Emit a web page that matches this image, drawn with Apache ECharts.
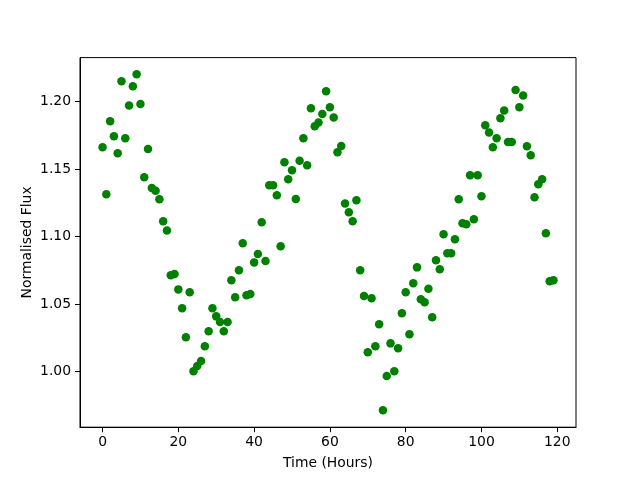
<!DOCTYPE html>
<html>
<head>
<meta charset="utf-8">
<script src="https://cdn.jsdelivr.net/npm/echarts@6/dist/echarts.min.js"></script>
<style>
html,body{margin:0;padding:0;background:#fff;}
#chart{width:640px;height:480px;}
</style>
</head>
<body>
<div id="chart"></div>
<script>
const hours = [0,1,2,3,4,5,6,7,8,9,10,11,12,13,14,15,16,17,18,19,
  20,21,22,23,24,25,26,27,28,29,30,31,32,33,34,35,36,37,38,39,
  40,41,42,43,44,45,46,47,48,49,50,51,52,53,54,55,56,57,58,59,
  60,61,62,63,64,65,66,67,68,69,70,71,72,73,74,75,76,77,78,79,
  80,81,82,83,84,85,86,87,88,89,90,91,92,93,94,95,96,97,98,99,
  100,101,102,103,104,105,106,107,108,109,110,111,112,113,114,115,116,117,118,119];
const flux = [1.1662,1.1314,1.1855,1.1744,1.1618,1.2151,1.1729,1.1973,1.2114,1.2203,
  1.1983,1.1440,1.1650,1.1361,1.1341,1.1277,1.1114,1.1047,1.0714,1.0724,
  1.0610,1.0470,1.0255,1.0588,1.0003,1.0042,1.0079,1.0188,1.0299,1.0470,
  1.0410,1.0368,1.0299,1.0368,1.0677,1.0551,1.0751,1.0951,1.0566,1.0576,
  1.0810,1.0872,1.1107,1.0820,1.1381,1.1381,1.1307,1.0929,1.1551,1.1425,
  1.1492,1.1279,1.1563,1.1729,1.1529,1.1951,1.1818,1.1847,1.1909,1.2077,
  1.1959,1.1884,1.1625,1.1672,1.1247,1.1181,1.1114,1.1270,1.0751,1.0561,
  1.0144,1.0544,1.0188,1.0351,0.9714,0.9968,1.0210,1.0003,1.0173,1.0433,
  1.0588,1.0277,1.0655,1.0773,1.0536,1.0514,1.0615,1.0403,1.0825,1.0759,
  1.1018,1.0877,1.0877,1.0981,1.1277,1.1099,1.1092,1.1455,1.1129,1.1455,
  1.1299,1.1825,1.1773,1.1662,1.1729,1.1877,1.1936,1.1701,1.1701,1.2087,
  1.1959,1.2047,1.1670,1.1603,1.1292,1.1388,1.1425,1.1025,1.0670,1.0677];
const xTicks = [0,20,40,60,80,100,120];
const yTicks = [1.00,1.05,1.10,1.15,1.20];

const points = hours.map((h,i)=>[h, flux[i]]);
const font = 'DejaVu Sans';
const chart = echarts.init(document.getElementById('chart'), null, {renderer:'canvas'});
chart.setOption({
  animation:false,
  backgroundColor:'#fff',
  grid:{left:80, right:64, top:57.6, bottom:52.8, show:true, borderColor:'#000', borderWidth:1, backgroundColor:'transparent'},
  xAxis:{
    type:'value', min:-5.95, max:124.95,
    name:'Time (Hours)', nameLocation:'middle', nameGap:29, nameMoveOverlap:false,
    nameTextStyle:{fontFamily:font, fontSize:13.9, color:'#000', verticalAlign:'top'},
    axisLine:{show:true, onZero:false, lineStyle:{color:'#000', width:1}},
    axisTick:{show:true, inside:false, length:5, lineStyle:{color:'#000'}, customValues:xTicks},
    axisLabel:{fontFamily:font, fontSize:13.9, color:'#000', margin:8, customValues:xTicks, formatter:v=>String(Math.round(v))},
    splitLine:{show:false}
  },
  yAxis:{
    type:'value', min:0.9589, max:1.2327,
    name:'Normalised Flux', nameLocation:'middle', nameGap:53, nameRotate:90, nameMoveOverlap:false,
    nameTextStyle:{fontFamily:font, fontSize:13.9, color:'#000', verticalAlign:'middle'},
    axisLine:{show:true, onZero:false, lineStyle:{color:'#000', width:1}},
    axisTick:{show:true, inside:false, length:5, lineStyle:{color:'#000'}, customValues:yTicks},
    axisLabel:{fontFamily:font, fontSize:13.9, color:'#000', margin:9, customValues:yTicks, formatter:v=>v.toFixed(2)},
    splitLine:{show:false}
  },
  series:[{
    type:'scatter',
    data:points,
    symbol:'circle',
    symbolSize:8.5,
    itemStyle:{color:'#008000', opacity:1},
    emphasis:{disabled:true}
  }]
});
</script>
</body>
</html>
